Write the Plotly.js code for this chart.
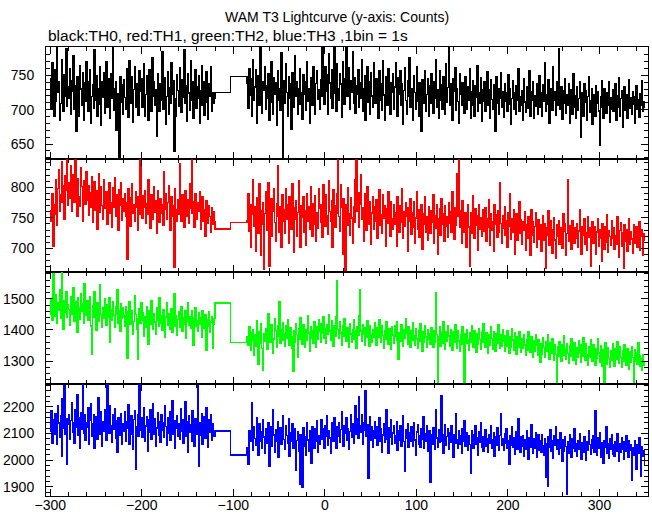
<!DOCTYPE html>
<html>
<head>
<meta charset="utf-8">
<script src="https://cdn.plot.ly/plotly-3.0.1.min.js"></script>
<style>html,body{margin:0;padding:0;background:#fff;}#chart{width:652px;height:515px;}
#chart .scatterlayer path{shape-rendering:crispEdges;}</style>
</head>
<body>
<div id="chart"></div>
<script>
// time axis (s): first segment start, second segment start, gap step edges
const startA = -300;
const startB = -85;
const gapTimes = [-120, -103];

// TH0 (black)
const th0A = [745,702,768,731,690,758,712,795,726,741,684,709,772,737,698,750,719,788,705,733,
716,760,694,742,727,779,701,735,668,748,721,690,764,730,706,753,684,739,712,770,
725,697,741,758,680,719,736,702,787,714,749,691,731,708,762,677,740,718,754,695,
733,769,704,727,745,688,752,716,790,699,730,741,670,723,705,628,748,711,736,693,
744,718,700,759,726,689,771,735,710,748,682,729,763,704,738,715,692,756,727,745,
703,734,767,690,722,749,711,685,758,730,697,776,719,740,706,729,661,752,725,698,
737,713,784,701,728,746,679,719,755,694,732,709,768,723,742,640,716,690,751,728,
705,761,730,696,744,718,787,709,735,683,752,724,699,771,713,740,688,727,758,702,
733,716,749,680,727,764,706,741,692,729,755,711,686,738,720,763,698,725,709,716];
const th0Gap = [725, 748];
const th0B = [738,702,760,721,745,690,772,714,733,758,681,726,749,707,790,719,695,741,728,763,
700,735,717,752,684,728,770,711,694,746,722,739,678,757,713,731,699,782,720,629,
742,709,766,725,690,748,716,737,671,754,728,703,779,719,741,694,730,760,708,725,
686,751,723,740,699,769,712,731,680,747,726,707,762,718,693,738,756,715,729,701,
744,720,792,735,708,763,727,750,693,781,739,716,758,702,745,790,724,698,766,731,
713,752,737,689,770,725,708,745,791,719,733,761,700,742,726,784,710,747,695,735,
722,758,704,739,716,773,697,731,749,685,727,762,711,740,694,754,720,703,768,730,
709,745,726,688,757,714,738,699,771,721,684,748,730,707,760,716,693,739,725,752,
701,733,768,715,690,746,722,757,706,737,679,728,761,713,694,742,719,775,704,730,
718,684,749,725,701,763,712,690,739,727,668,744,709,731,756,698,722,745,691,735,
710,752,726,695,741,717,772,703,729,688,757,714,736,700,748,721,693,767,711,732,
790,706,738,719,684,745,727,761,699,730,712,681,752,723,706,739,716,695,748,720,
701,733,714,759,688,726,742,707,690,735,718,764,697,724,709,746,683,729,712,740,
698,721,755,706,729,687,743,715,700,736,722,669,748,710,731,694,717,753,703,726,
689,738,712,724,697,751,708,730,679,716,742,701,725,693,735,714,760,698,719,707,
728,684,745,711,696,733,718,702,757,690,726,713,741,687,720,705,738,694,716,749,
703,725,690,736,712,768,697,721,708,744,681,717,731,699,762,713,726,692,740,706,
789,719,701,734,686,727,710,745,695,722,706,738,680,715,729,693,752,704,720,688,
733,699,716,741,660,724,702,690,737,711,727,684,719,748,696,713,730,679,707,722,
691,735,710,726,698,649,719,742,704,688,731,713,695,724,707,740,682,718,701,729,
697,712,738,685,720,703,746,691,716,727,674,709,733,699,721,688,713,744,702,718,
694,726,708,680,719,735,701,715,689,723,706,742,698,712,703];

// TH1 (red)
const th1A = [762,745,790,703,771,756,812,738,798,829,760,787,842,775,803,748,819,795,846,770,
808,782,835,761,797,821,776,846,790,752,814,785,769,832,801,744,788,810,773,826,
779,803,755,791,768,817,742,786,809,763,795,731,778,822,759,801,770,748,812,784,
766,793,740,781,807,757,775,734,799,768,815,752,787,763,729,796,771,808,746,782,
760,790,753,775,682,798,764,737,783,806,758,771,745,792,767,729,785,756,846,774,
749,786,768,795,741,773,756,812,762,733,788,770,747,801,759,778,724,794,765,742,
781,757,771,738,826,764,790,748,775,803,760,729,785,752,770,669,797,763,744,779,
756,838,771,745,788,760,734,795,769,752,780,741,806,766,846,758,777,735,789,763,
748,775,760,792,731,769,784,745,763,719,778,756,741,770,752,726,767,739,760,744];
const th1Gap = [732, 742];
const th1B = [745,790,728,771,702,756,812,737,768,695,783,751,724,806,762,688,740,775,665,757,
792,730,764,808,670,749,781,719,760,797,742,711,773,835,752,726,768,701,787,744,
763,725,798,748,771,709,785,752,731,806,766,693,747,778,720,759,811,740,702,769,
751,784,727,762,705,790,745,768,732,801,756,719,773,740,786,711,758,733,797,765,
742,771,718,805,758,736,787,753,723,811,760,744,778,701,796,769,735,757,790,846,
752,728,804,767,690,781,745,663,772,738,799,756,721,783,750,709,768,742,812,846,
760,791,735,772,820,747,766,712,789,753,729,801,764,740,777,706,758,785,731,768,
744,779,716,762,796,738,755,725,787,749,770,703,765,741,793,757,720,776,748,731,
771,739,758,704,784,751,726,769,743,798,717,760,737,775,752,695,766,744,781,723,
758,735,776,709,750,792,731,763,718,745,772,698,756,739,784,727,752,714,768,741,
725,762,743,787,708,754,733,771,690,748,765,722,781,740,756,711,769,736,752,718,
775,741,760,727,793,749,715,767,738,822,753,846,734,762,709,778,745,726,758,702,
747,771,735,670,759,724,786,742,716,765,738,754,697,772,731,750,719,763,741,728,
766,712,748,735,779,705,757,730,744,696,771,739,755,718,762,727,808,741,709,753,
733,768,721,745,702,759,737,790,715,748,726,763,690,741,756,713,735,777,724,747,
707,743,729,760,697,738,716,751,730,688,764,722,744,710,736,758,701,729,747,715,
739,695,727,754,713,741,668,733,721,762,705,746,731,692,725,750,714,683,739,720,
745,706,734,719,700,757,728,741,689,724,812,711,737,720,698,746,727,709,733,716,
741,702,728,763,715,690,735,722,748,707,726,697,751,718,733,670,724,744,709,736,
712,690,727,748,703,731,717,678,741,723,699,736,710,755,694,728,719,705,745,716,
733,698,721,707,752,714,686,729,742,703,725,668,738,711,731,696,720,749,706,727,
715,692,739,722,708,735,701,726,744,697,719,731,688,724,712];

// TH2 (green)
const th2A = [1452,1498,1431,1580,1476,1445,1512,1420,1488,1463,1530,1438,1585,1471,1402,1495,1457,1523,1440,1481,
1466,1415,1508,1449,1475,1537,1428,1490,1455,1392,1503,1470,1436,1518,1461,1483,1422,1550,1447,1468,
1494,1431,1459,1506,1412,1321,1477,1442,1523,1455,1398,1486,1463,1427,1544,1450,1409,1472,1437,1499,
1458,1415,1481,1440,1503,1362,1466,1431,1490,1447,1408,1475,1452,1528,1423,1461,1396,1484,1438,1470,
1445,1412,1476,1433,1310,1458,1492,1418,1440,1463,1385,1427,1511,1449,1402,1306,1436,1468,1420,1488,
1431,1455,1379,1442,1410,1476,1427,1353,1463,1418,1494,1436,1402,1451,1425,1387,1470,1430,1413,1502,
1420,1446,1398,1466,1429,1375,1441,1489,1414,1452,1403,1437,1468,1392,1426,1515,1411,1445,1382,1433,
1457,1408,1430,1475,1397,1440,1419,1463,1372,1428,1486,1415,1443,1404,1461,1425,1352,1438,1470,1412,
1429,1395,1454,1418,1440,1378,1463,1423,1407,1448,1336,1432,1411,1459,1393,1426,1443,1340,1418,1437];
const th2Gap = [1487, 1360];
const th2B = [1378,1352,1410,1391,1335,1366,1402,1318,1384,1349,1431,1372,1290,1395,1357,1420,1341,1269,1388,1364,
1405,1376,1339,1452,1393,1360,1418,1383,1326,1371,1437,1398,1345,1412,1379,1490,1358,1401,1366,1423,
1387,1349,1414,1372,1433,1395,1351,1408,1377,1341,1266,1399,1360,1421,1385,1312,1404,1369,1440,1392,
1355,1417,1380,1343,1402,1368,1445,1390,1332,1411,1374,1398,1356,1425,1383,1346,1409,1371,1434,1395,
1362,1420,1388,1441,1374,1403,1357,1418,1385,1450,1396,1367,1429,1391,1348,1412,1380,1441,1557,1402,
1373,1426,1390,1352,1415,1381,1437,1398,1364,1408,1375,1345,1421,1387,1359,1402,1433,1370,1396,1340,
1411,1382,1445,1529,1396,1363,1418,1387,1352,1406,1378,1430,1392,1348,1413,1384,1359,1401,1375,1422,
1389,1350,1407,1376,1434,1394,1361,1415,1382,1340,1398,1370,1425,1387,1353,1404,1372,1338,1411,1384,
1358,1413,1379,1426,1367,1305,1392,1364,1418,1381,1347,1402,1373,1436,1390,1355,1409,1376,1345,1397,
1366,1424,1382,1350,1405,1371,1340,1398,1363,1420,1386,1332,1394,1360,1412,1378,1346,1401,1369,1389,
1355,1408,1374,1343,1396,1362,1520,1385,1230,1377,1410,1349,1391,1358,1426,1372,1338,1395,1363,1414,
1380,1347,1402,1366,1335,1393,1360,1418,1375,1341,1398,1364,1330,1386,1354,1409,1371,1229,1388,1357,
1401,1368,1336,1392,1359,1415,1377,1344,1398,1362,1327,1387,1353,1404,1370,1339,1395,1361,1420,1376,
1345,1390,1358,1326,1384,1351,1409,1372,1338,1395,1360,1333,1388,1356,1416,1374,1341,1386,1349,1402,
1365,1330,1381,1347,1398,1362,1325,1379,1344,1404,1368,1336,1391,1355,1322,1377,1345,1393,1359,1328,
1372,1340,1386,1351,1318,1369,1336,1394,1357,1327,1378,1346,1311,1365,1332,1384,1350,1320,1370,1339,
1296,1355,1322,1376,1343,1312,1362,1331,1383,1348,1306,1358,1326,1371,1338,1304,1354,1321,1228,1345,
1316,1363,1330,1298,1352,1319,1381,1340,1307,1356,1325,1292,1349,1316,1371,1334,1302,1358,1323,1289,
1343,1311,1364,1328,1296,1351,1317,1376,1337,1303,1355,1320,1288,1345,1312,1367,1331,1299,1353,1318,
1286,1341,1308,1372,1326,1295,1348,1314,1283,1337,1230,1359,1321,1290,1344,1309,1279,1333,1302,1356,
1318,1284,1338,1305,1363,1327,1293,1346,1311,1280,1334,1300,1352,1316,1285,1340,1306,1275,1329,1296,
1347,1312,1232,1335,1298,1326,1291,1358,1317,1282,1308,1272,1320,1288,1301];

// TH3 (blue)
const th3A = [2110,2185,2062,2150,2098,2174,2125,2058,2203,2140,2087,2165,2015,2230,2118,2279,2096,2157,1985,2135,
2172,2080,2148,2216,2105,2139,2063,2190,2122,2247,2094,2158,2044,2178,2116,2285,2101,2169,2073,2142,
2125,2196,2060,2151,2213,2088,2137,2171,2045,2119,2162,2079,2233,2134,2097,2180,2053,2145,2108,2189,
2124,2076,2287,2154,2101,2206,2131,2066,2170,2115,2192,2083,2147,2029,2160,2121,2095,2175,2058,2138,
2108,2183,2072,2146,2119,2207,2061,2133,2165,2097,2040,2152,2186,1966,2127,2172,2090,2287,2114,2159,
2087,2141,2196,2070,2128,2162,2033,2150,2104,2188,2079,2136,2210,2096,2155,2051,2120,2177,2092,2143,
2066,2171,2113,2139,2085,2203,2127,2056,2158,2102,2180,2074,2134,2224,2098,2149,2043,2118,2165,2091,
2137,2078,2194,2110,2153,2062,2125,2219,2089,2146,2031,2168,2105,2133,2071,2186,2116,2052,2154,2099,
2126,2281,1976,2140,2092,2175,2060,2118,2163,2083,2198,2129,2047,2152,2104,2170,2076,2135,2111,2088];
const th3Gap = [2109, 2019];
const th3B = [2047,1985,2110,2072,2093,2215,2038,2125,2081,2054,2160,2097,2019,2136,2070,2108,2043,2152,2086,2025,
2118,2064,2099,2142,1978,2083,2127,2051,2190,2095,2031,2114,2072,2146,2009,2089,2123,2058,2103,2166,
2077,2040,2131,2092,2062,2155,2016,2101,2069,2138,2045,2084,2118,1960,2074,2108,2035,1910,2097,2060,
1898,2122,2051,2086,2019,2140,2075,2033,2109,2063,1990,2127,2081,2044,2116,2070,2148,2028,2093,2061,
2104,2152,2079,2118,2046,2131,2090,2167,2057,2112,2083,2024,2139,2098,2070,2160,2106,2045,2125,2088,
2142,2067,2115,2183,2094,2052,2129,2101,2161,2076,2118,2039,2107,2170,2086,2135,2062,2119,2206,2097,
2154,2081,2237,2128,2103,2171,2060,2141,2112,2259,2088,2133,1930,2097,2162,2075,2124,2048,2109,2143,
2082,2127,2054,2105,2160,2071,2116,2031,2094,2138,2067,2113,2189,2078,2025,2120,2086,2150,2059,2101,
2128,2064,2093,2145,2038,2109,2076,2131,2052,2098,2165,2070,1958,2114,2081,2137,2047,2102,2069,2124,
2089,2053,2140,2075,2017,2106,2132,2061,2093,2048,2118,2079,2164,2044,2100,2071,2128,2034,2086,2112,
1918,2097,2058,2121,2075,2040,2189,2083,2049,2115,2066,2101,2241,2072,2027,2094,2133,2056,2088,2118,
2041,2103,2067,2131,2084,2012,2096,2064,2175,2078,2045,2110,2060,2093,2024,2119,2071,2149,2053,2086,
2103,2037,2090,2058,1950,2112,2074,2043,2096,2128,2061,2083,2019,2106,2066,2142,2050,2089,2033,2078,
2115,2052,2082,2029,2097,2063,2130,2046,2076,2104,2013,2088,2055,2121,2069,2038,2093,2174,2057,2080,
2036,2099,2062,2118,2044,2073,1985,2091,2057,2126,2048,2084,2021,2070,2108,2042,2155,2063,2029,2087,
2051,2093,2016,2076,2040,2110,2059,2002,2085,2047,2132,2064,2025,2079,2045,2103,2012,2068,2094,2037,
2072,2030,2097,2055,2018,2081,1935,2063,1902,2088,2049,2114,2035,2071,2006,2092,2057,2124,2041,2078,
2022,2066,2101,2043,1994,2075,2033,2089,2051,1870,2068,2027,2095,2054,2012,2080,2046,2117,2034,2062,
2015,2072,2040,2098,2053,2004,2065,2029,2086,2047,1998,2070,2036,2109,2058,2021,2077,2043,2092,2031,
2185,2055,2018,2083,2045,2102,2012,2067,2038,1990,2074,2050,2125,2026,2061,2008,2079,2042,2096,2021,
2057,2014,2070,2035,2099,2048,1997,2063,2029,2084,2041,2005,2068,2032,2090,2052,2011,2074,2038,2059,
1925,2046,2018,2071,2033,1965,2058,2024,2083,2040,1941,2052,2015,2034,1980];

const colors = ['#000000', '#ff0000', '#00ff00', '#0000ff'];
const yRanges = [[628, 791], [662, 846], [1227, 1588], [1865, 2287]];
const yDticks = [50, 50, 100, 100];
const yMinor = [10, 10, 20, 20];

function buildSeries(a, gap, b) {
  const xs = [], ys = [];
  a.forEach((v, i) => { xs.push(startA + i); ys.push(v); });
  gap.forEach((v, i) => { xs.push(gapTimes[i]); ys.push(v); });
  b.forEach((v, i) => { xs.push(startB + i); ys.push(v); });
  return {xs, ys};
}

const sets = [[th0A, th0Gap, th0B], [th1A, th1Gap, th1B], [th2A, th2Gap, th2B], [th3A, th3Gap, th3B]];
const font = {family: '"Liberation Sans", Arial, sans-serif', size: 14, color: '#000'};

const traces = sets.map((s, k) => {
  const d = buildSeries(s[0], s[1], s[2]);
  return {
    x: d.xs, y: d.ys, type: 'scatter', mode: 'lines',
    line: {color: colors[k], width: 1.5, shape: 'hv'},
    xaxis: k === 0 ? 'x' : 'x' + (k + 1),
    yaxis: k === 0 ? 'y' : 'y' + (k + 1),
    hoverinfo: 'skip', showlegend: false
  };
});

const layout = {
  width: 652, height: 515,
  margin: {l: 46, r: 4, t: 47, b: 19, pad: 0},
  paper_bgcolor: '#fff', plot_bgcolor: '#fff',
  font: font,
  showlegend: false,
  title: {text: 'WAM T3 Lightcurve (y-axis: Counts)', x: 0.517, xanchor: 'center',
          y: 1 - 17 / 515, yanchor: 'middle', yref: 'container', font: font},
  annotations: [{text: 'black:TH0, red:TH1, green:TH2, blue:TH3 ,1bin = 1s',
    xref: 'paper', yref: 'paper', x: 0, y: 1 + 12 / 449, xanchor: 'left', yanchor: 'middle',
    showarrow: false, font: Object.assign({}, font, {size: 15.5})}]
};

for (let k = 0; k < 4; k++) {
  const xa = k === 0 ? 'xaxis' : 'xaxis' + (k + 1);
  const ya = k === 0 ? 'yaxis' : 'yaxis' + (k + 1);
  const ykey = k === 0 ? 'y' : 'y' + (k + 1);
  const xkey = k === 0 ? 'x' : 'x' + (k + 1);
  const top = 1 - k * 0.25, bot = 1 - (k + 1) * 0.25;
  layout[xa] = {
    anchor: ykey, range: [-304.7, 353], dtick: 100, tick0: 0,
    showgrid: false, zeroline: false, showline: true, linecolor: '#000', linewidth: 1,
    mirror: 'allticks', ticks: 'inside', ticklen: 7, tickcolor: '#000', tickwidth: 1,
    minor: {dtick: 20, ticks: 'inside', ticklen: 4, tickcolor: '#000', showgrid: false},
    showticklabels: k === 3, tickfont: font, ticklabelstandoff: -4
  };
  if (k > 0) layout[xa].matches = 'x';
  layout[ya] = {
    anchor: xkey, domain: [bot, top], range: yRanges[k], dtick: yDticks[k], tick0: 0,
    showgrid: false, zeroline: false, showline: true, linecolor: '#000', linewidth: 1,
    mirror: 'allticks', ticks: 'inside', ticklen: 7, tickcolor: '#000', tickwidth: 1,
    minor: {dtick: yMinor[k], ticks: 'inside', ticklen: 4, tickcolor: '#000', showgrid: false},
    tickfont: font, ticklabelstandoff: 8
  };
}

Plotly.newPlot('chart', traces, layout, {staticPlot: true, displayModeBar: false});
</script>
</body>
</html>
